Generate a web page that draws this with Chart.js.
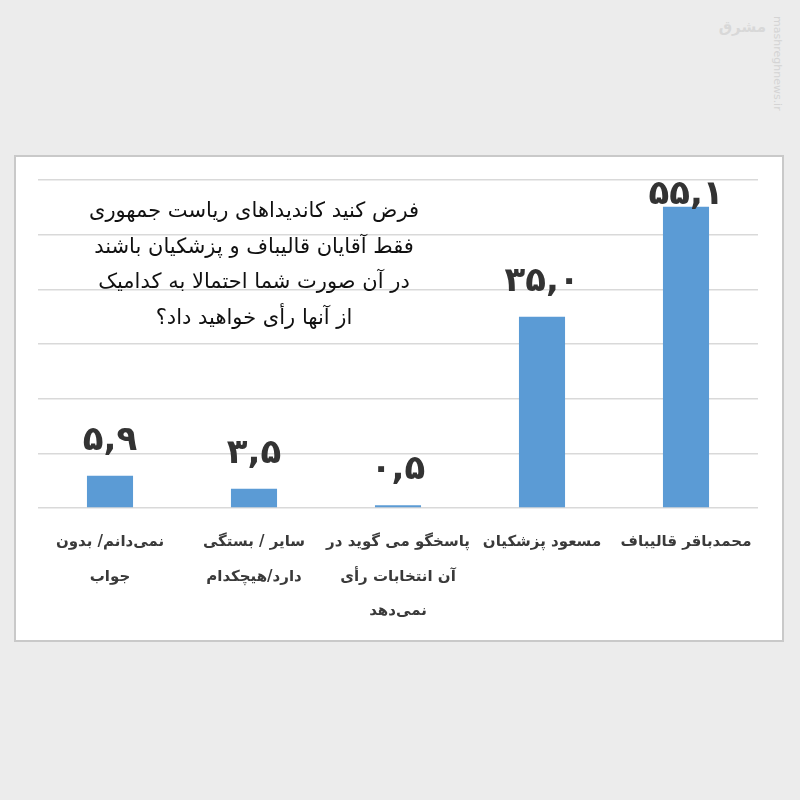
<!DOCTYPE html>
<html>
<head>
<meta charset="utf-8">
<script src="https://cdn.jsdelivr.net/npm/chart.js@4/dist/chart.umd.min.js"></script>
<style>
  html, body { margin:0; padding:0; background:#ececec; width:800px; height:800px; overflow:hidden; }
  #box { position:absolute; left:14px; top:155px; width:766px; height:483px; background:#fff; border:2px solid #c9c9c9; }
  #wm { position:absolute; left:784px; top:16px; transform:rotate(90deg); transform-origin:left top; font:11px "DejaVu Sans"; color:#d4d4d4; white-space:nowrap; }
  #logo { position:absolute; left:722px; top:18px; width:44px; text-align:center; font:bold 15px "DejaVu Sans"; color:#d8d8d8; direction:rtl; }
</style>
</head>
<body>
<div id="logo">مشرق</div>
<div id="wm">mashreghnews.ir</div>
<div id="box"><canvas id="c"></canvas></div>
<script>
const categories = [
  ["نمی‌دانم/ بدون", "جواب"],
  ["سایر / بستگی", "دارد/هیچکدام"],
  ["پاسخگو می گوید در", "آن انتخابات رأی", "نمی‌دهد"],
  "مسعود پزشکیان",
  "محمدباقر قالیباف"
];
const values = [5.9, 3.5, 0.5, 35.0, 55.1];
const questionLines = [
  "فرض کنید کاندیداهای ریاست جمهوری",
  "فقط آقایان قالیباف و پزشکیان باشند",
  "در آن صورت شما احتمالا به کدامیک",
  "از آنها رأی خواهید داد؟"
];

const faDigits = "۰۱۲۳۴۵۶۷۸۹";
function toFa(v) {
  return v.toFixed(1).replace(".", ",").replace(/[0-9]/g, d => faDigits[+d]);
}

const labelPlugin = {
  id: "valueLabels",
  afterDatasetsDraw(chart) {
    const ctx = chart.ctx;
    const meta = chart.getDatasetMeta(0);
    const area = chart.chartArea;
    ctx.save();
    ctx.font = "bold 34px 'DejaVu Sans'";
    ctx.fillStyle = "#333333";
    ctx.textAlign = "center";
    ctx.textBaseline = "alphabetic";
    ctx.direction = "ltr";
    meta.data.forEach((bar, i) => {
      let y = bar.y - 26;
      y = Math.max(y, area.top + 24);
      ctx.fillText(toFa(values[i]), bar.x, y);
    });
    ctx.restore();
  }
};

const questionPlugin = {
  id: "question",
  afterDraw(chart) {
    const ctx = chart.ctx;
    const xs = chart.scales.x;
    const cx = xs.getPixelForValue(1);
    const area = chart.chartArea;
    ctx.save();
    ctx.font = "21px 'DejaVu Sans'";
    ctx.fillStyle = "#111111";
    ctx.textAlign = "center";
    ctx.textBaseline = "middle";
    ctx.direction = "ltr";
    questionLines.forEach((t, i) => {
      ctx.fillText(t, cx, area.top + 32 + i * 35.5);
    });
    ctx.restore();
  }
};

new Chart(document.getElementById("c"), {
  type: "bar",
  data: {
    labels: categories,
    datasets: [{
      data: values,
      backgroundColor: "#5b9bd5",
      barPercentage: 0.32,
      categoryPercentage: 1.0
    }]
  },
  options: {
    responsive: true,
    maintainAspectRatio: false,
    animation: false,
    layout: { padding: { left: 22, right: 24, top: 23, bottom: 0 } },
    plugins: { legend: { display: false }, tooltip: { enabled: false } },
    scales: {
      x: {
        grid: { display: false },
        border: { display: false },
        ticks: {
          color: "#3a3a3a",
          font: { family: "DejaVu Sans", size: 15, weight: "bold", lineHeight: 2.3 },
          padding: 9,
          maxRotation: 0,
          autoSkip: false
        },
        afterFit(s) { s.height = 132; }
      },
      y: {
        min: 0, max: 60,
        ticks: { display: false, stepSize: 10 },
        grid: { color: "#d9d9d9", lineWidth: 1.5, drawTicks: false },
        border: { display: false },
        afterFit(s) { s.width = 0; }
      }
    }
  },
  plugins: [labelPlugin, questionPlugin]
});
</script>
</body>
</html>
